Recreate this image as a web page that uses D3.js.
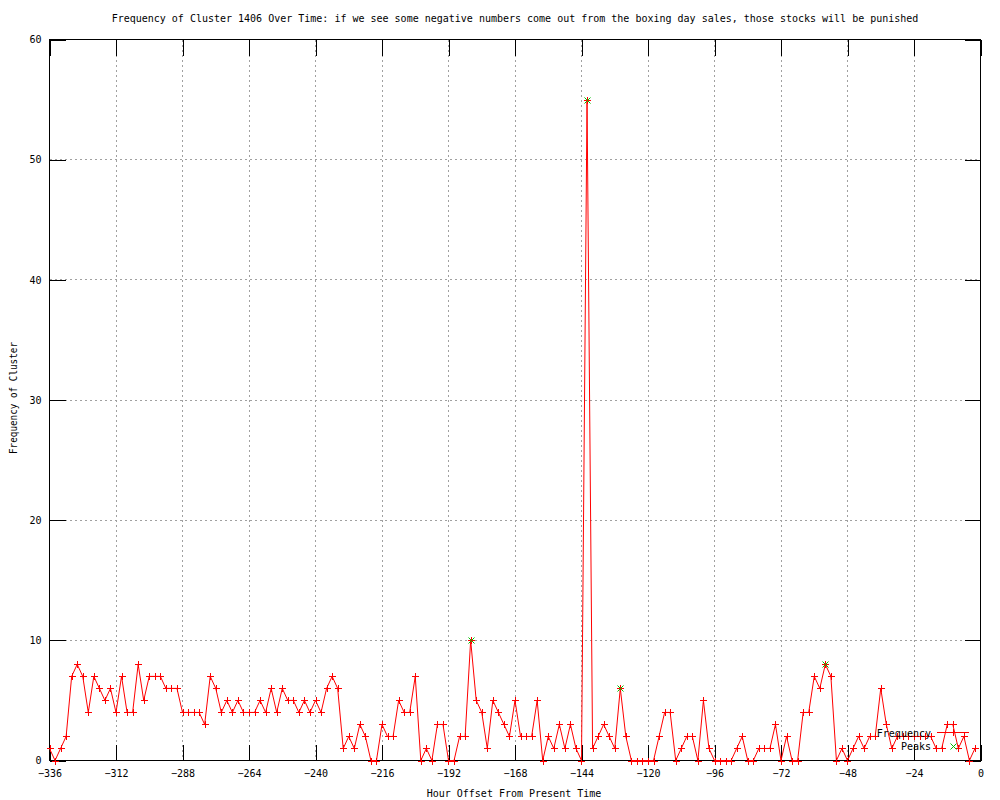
<!DOCTYPE html>
<html>
<head>
<meta charset="utf-8">
<script src="https://cdn.jsdelivr.net/npm/d3@7"></script>
<style>
  html, body { margin: 0; padding: 0; background: #ffffff; }
  svg { display: block; }
  text { font-family: "DejaVu Sans Mono", "Liberation Mono", monospace; font-size: 10px; fill: #000; }
</style>
</head>
<body>
<svg id="chart" width="1000" height="800"></svg>
<script>
// ---------------- data ----------------
const titleText = "Frequency of Cluster 1406 Over Time: if we see some negative numbers come out from the boxing day sales, those stocks will be punished";
const xLabelText = "Hour Offset From Present Time";
const yLabelText = "Frequency of Cluster";
const seriesNames = ["Frequency", "Peaks"];

// hour offsets, every 2 hours from -336 to -2
const hours = d3.range(-336, 0, 2);
const frequency = [
  1,0,1,2,7,8,7,4,7,6,5,6,
  4,7,4,4,8,5,7,7,7,6,6,6,
  4,4,4,4,3,7,6,4,5,4,5,4,
  4,4,5,4,6,4,6,5,5,4,5,4,
  5,4,6,7,6,1,2,1,3,2,0,0,
  3,2,2,5,4,4,7,0,1,0,3,3,
  0,0,2,2,10,5,4,1,5,4,3,2,
  5,2,2,2,5,0,2,1,3,1,3,1,
  0,55,1,2,3,2,1,6,2,0,0,0,
  0,0,2,4,4,0,1,2,2,0,5,1,
  0,0,0,0,1,2,0,0,1,1,1,3,
  0,2,0,0,4,4,7,6,8,7,0,1,
  0,1,2,1,2,2,6,3,1,2,2,2,
  2,2,2,2,1,1,3,3,1,2,0,1
];
const peakHours = [-184, -142, -130, -56];
const peakValues = [10, 55, 6, 8];

const xTicks = [-336, -312, -288, -264, -240, -216, -192, -168, -144, -120, -96, -72, -48, -24, 0];
const yTicks = [0, 10, 20, 30, 40, 50, 60];

// ---------------- layout ----------------
const svg = d3.select("#chart");
const pL = 49.5, pR = 980.5, pT = 39.5, pB = 760.5;
const tickLen = 16;

const x = d3.scaleLinear().domain([-336, 0]).range([pL, pR]);
const y = d3.scaleLinear().domain([0, 60]).range([pB, pT]);

const freqData = hours.map((h, i) => ({ h, v: frequency[i] }));
const peakData = peakHours.map((h, i) => ({ h, v: peakValues[i] }));

// grid
const grid = svg.append("g").attr("stroke", "#a0a0a0").attr("stroke-dasharray", "2,3")
  .attr("shape-rendering", "crispEdges");
grid.selectAll("line.gx").data(xTicks.slice(1, -1)).join("line").attr("class", "gx")
  .attr("x1", d => x(d)).attr("x2", d => x(d)).attr("y1", pT).attr("y2", pB);
grid.selectAll("line.gy").data(yTicks.slice(1, -1)).join("line").attr("class", "gy")
  .attr("y1", d => y(d)).attr("y2", d => y(d)).attr("x1", pL).attr("x2", pR);

// axes (ticks inward, mirrored)
function styleAxis(g) {
  g.select(".domain").remove();
  g.selectAll(".tick line").attr("stroke", "#000").attr("shape-rendering", "crispEdges");
  g.selectAll(".tick text").attr("font-family", "DejaVu Sans Mono, monospace").attr("font-size", 10).attr("fill", "#000");
}
svg.append("g").attr("transform", `translate(0,${pB})`)
  .call(d3.axisBottom(x).tickValues(xTicks).tickSize(-tickLen).tickPadding(9).tickFormat(d3.format("d")))
  .call(styleAxis);
svg.append("g").attr("transform", `translate(0,${pT})`)
  .call(d3.axisTop(x).tickValues(xTicks).tickSize(-tickLen).tickFormat(""))
  .call(styleAxis);
svg.append("g").attr("transform", `translate(${pL},0)`)
  .call(d3.axisLeft(y).tickValues(yTicks).tickSize(-tickLen).tickPadding(8).tickFormat(d3.format("d")))
  .call(styleAxis);
svg.append("g").attr("transform", `translate(${pR},0)`)
  .call(d3.axisRight(y).tickValues(yTicks).tickSize(-tickLen).tickFormat(""))
  .call(styleAxis);

// border
svg.append("rect").attr("x", pL).attr("y", pT).attr("width", pR - pL).attr("height", pB - pT)
  .attr("fill", "none").attr("stroke", "#000").attr("shape-rendering", "crispEdges");

// frequency line
const line = d3.line().x(d => x(d.h)).y(d => y(d.v));
svg.append("path").datum(freqData).attr("d", line)
  .attr("fill", "none").attr("stroke", "#ff0000").attr("stroke-width", 1);

const plusPath = "M-3.5,0H3.5M0,-3.5V3.5";
const crossPath = "M-3,-3L3,3M-3,3L3,-3";
svg.append("g").selectAll("path").data(freqData).join("path")
  .attr("transform", d => `translate(${Math.round(x(d.h)) + 0.5},${Math.round(y(d.v)) + 0.5})`)
  .attr("d", plusPath).attr("stroke", "#ff0000").attr("fill", "none").attr("shape-rendering", "crispEdges");

// peaks
svg.append("g").selectAll("path").data(peakData).join("path")
  .attr("transform", d => `translate(${Math.round(x(d.h)) + 0.5},${Math.round(y(d.v)) + 0.5})`)
  .attr("d", crossPath).attr("stroke", "#00c000").attr("fill", "none");

// legend
const legX = 931, lineX1 = 937, lineX2 = 969;
const lg = svg.append("g");
lg.append("text").attr("x", legX).attr("y", 733).attr("text-anchor", "end").attr("dy", "0.35em").text(seriesNames[0]);
lg.append("line").attr("x1", lineX1).attr("x2", lineX2).attr("y1", 732.5).attr("y2", 732.5)
  .attr("stroke", "#ff0000").attr("shape-rendering", "crispEdges");
lg.append("path").attr("transform", `translate(953.5,732.5)`).attr("d", plusPath)
  .attr("stroke", "#ff0000").attr("shape-rendering", "crispEdges");
lg.append("text").attr("x", legX).attr("y", 746).attr("text-anchor", "end").attr("dy", "0.35em").text(seriesNames[1]);
lg.append("path").attr("transform", `translate(953.5,746.5)`).attr("d", crossPath)
  .attr("stroke", "#00c000");

// titles
svg.append("text").attr("x", 515).attr("y", 22).attr("text-anchor", "middle").text(titleText);
svg.append("text").attr("x", 514).attr("y", 797).attr("text-anchor", "middle").text(xLabelText);
svg.append("text").attr("transform", "translate(17,398) rotate(-90)").attr("text-anchor", "middle")
  .attr("textLength", 112).attr("lengthAdjust", "spacingAndGlyphs").text(yLabelText);
</script>
</body>
</html>
